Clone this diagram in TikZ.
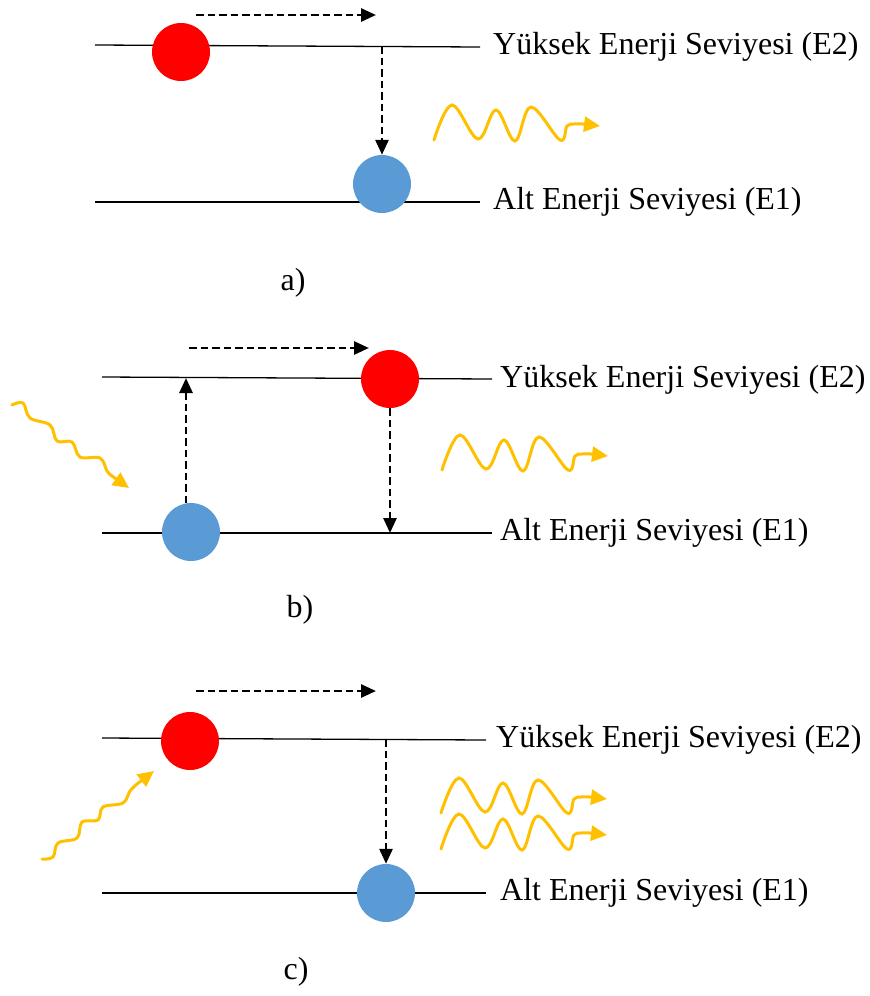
\documentclass[tikz,border=0pt]{standalone}
\usepackage{fontspec}
\setmainfont{Liberation Serif}
\usetikzlibrary{arrows.meta}
\definecolor{redc}{HTML}{FF0000}
\definecolor{bluec}{HTML}{5B9BD5}
\definecolor{wavec}{HTML}{FFC000}
\tikzset{
  elevel/.style={line width=1.3pt, black},
  lbl/.style={anchor=west, inner sep=0pt, font=\fontsize{32}{38}\selectfont},
  caplbl/.style={inner sep=0pt, font=\fontsize{32}{38}\selectfont},
  upperdot/.style={circle, fill=redc, minimum size=58pt, inner sep=0pt},
  lowerdot/.style={circle, fill=bluec, minimum size=58pt, inner sep=0pt},
  dasharrow/.style={line width=2.7pt, dash pattern=on 7.5pt off 4pt, -{Triangle[length=15pt,width=13pt]}},
  photon/.style={wavec, line width=3pt, line cap=round, -{Triangle[length=16pt,width=15pt]}},
  wave/.pic={\draw[photon] plot[smooth, tension=0.6] coordinates{(0,0) (18,-35) (44,-1) (62,-30) (81,1) (97,-33) (126,0) (133,-14) (140,-16) (149,-16)} -- (166,-14);}
}
\begin{document}
\begin{tikzpicture}[x=1pt, y=-1pt]
\useasboundingbox (0,0) rectangle (870,996);

% ---------- panel a ----------
\coordinate (a1) at (95,45);
\coordinate (a2) at (480,47);
\coordinate (a3) at (95,202);
\coordinate (a4) at (480,202);
\draw[elevel] (a1) -- (a2);
\draw[elevel] (a3) -- (a4);
\node[lbl] (aE2) at (493,47) {Yüksek Enerji Seviyesi (E2)};
\node[lbl] (aE1) at (493,202) {Alt Enerji Seviyesi (E1)};
\node[upperdot] (ared) at (181,52) {};
\node[lowerdot] (ablue) at (382,184) {};
\coordinate (ah1) at (196,15);
\coordinate (ah2) at (376,15);
\draw[dasharrow] (ah1) -- (ah2);
\coordinate (av1) at (382,46);
\draw[dasharrow] (av1) -- (ablue.north);
\pic at (434,140) {wave};
\node[caplbl] (acap) at (293,283) {a)};

% ---------- panel b ----------
\coordinate (b1) at (102,377);
\coordinate (b2) at (492,379);
\coordinate (b3) at (102,533);
\coordinate (b4) at (492,533);
\draw[elevel] (b1) -- (b2);
\draw[elevel] (b3) -- (b4);
\node[lbl] (bE2) at (500,380) {Yüksek Enerji Seviyesi (E2)};
\node[lbl] (bE1) at (500,533) {Alt Enerji Seviyesi (E1)};
\node[upperdot] (bred) at (390,379) {};
\node[lowerdot] (bblue) at (191,532) {};
\coordinate (bh1) at (189,348);
\coordinate (bh2) at (369,348);
\draw[dasharrow] (bh1) -- (bh2);
\coordinate (bu1) at (186,503);
\coordinate (bu2) at (186,378);
\draw[dasharrow] (bu1) -- (bu2);
\coordinate (bd2) at (390,533);
\draw[dasharrow] (bred.south) -- (bd2);
\pic at (442,470) {wave};
\coordinate (bin) at (129,488);
\draw[photon] plot[smooth, tension=0.6] coordinates{(12,405) (23,403) (30,418) (50,425) (57,441) (72,442) (80,457) (100,458) (107,471) (112,476)} -- (bin);
\node[caplbl] (bcap) at (300,610) {b)};

% ---------- panel c ----------
\coordinate (c1) at (102,738);
\coordinate (c2) at (486,740);
\coordinate (c3) at (102,893);
\coordinate (c4) at (486,893);
\draw[elevel] (c1) -- (c2);
\draw[elevel] (c3) -- (c4);
\node[lbl] (cE2) at (496,740) {Yüksek Enerji Seviyesi (E2)};
\node[lbl] (cE1) at (500,893) {Alt Enerji Seviyesi (E1)};
\node[upperdot] (cred) at (190,741) {};
\node[lowerdot] (cblue) at (386,893) {};
\coordinate (ch1) at (196,691);
\coordinate (ch2) at (376,691);
\draw[dasharrow] (ch1) -- (ch2);
\coordinate (cv1) at (386,739);
\draw[dasharrow] (cv1) -- (cblue.north);
\pic at (441,813) {wave};
\pic at (441,849) {wave};
\coordinate (cin) at (154,771);
\draw[photon] plot[smooth, tension=0.6] coordinates{(42,859) (53,857) (58,843) (77,838) (82,822) (98,820) (103,807) (123,803) (130,791) (137,784)} -- (cin);
\node[caplbl] (ccap) at (296,972) {c)};
\end{tikzpicture}
\end{document}
